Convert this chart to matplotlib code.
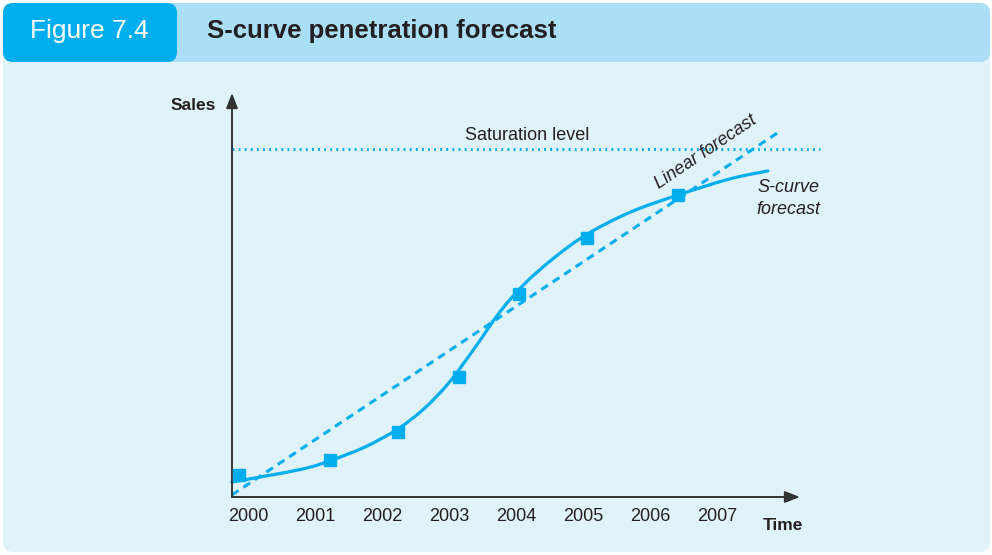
"""S-curve penetration forecast: sales vs time with linear and S-curve forecasts."""

import matplotlib

matplotlib.use("Agg")
import matplotlib.pyplot as plt
import numpy as np
from matplotlib.patches import FancyBboxPatch, PathPatch
from matplotlib.path import Path

plt.rcParams["font.family"] = ["Liberation Sans", "DejaVu Sans"]

# Time axis
years = [2000, 2001, 2002, 2003, 2004, 2005, 2006, 2007]
year_labels = ["2000", "2001", "2002", "2003", "2004", "2005", "2006", "2007"]

# Observed sales points (square markers)
obs_time = [1999.87, 2001.22, 2002.24, 2003.15, 2004.04, 2005.06, 2006.42]
obs_sales = [6.3, 10.6, 18.7, 34.5, 58.3, 74.4, 86.8]

# S-curve forecast through the points
scurve_time = [1999.76, 2000.78, 2001.22, 2001.75, 2002.24, 2002.64, 2003.01,
               2003.39, 2003.76, 2004.13, 2004.58, 2005.06, 2005.70, 2006.42,
               2007.19, 2007.76]
scurve_sales = [4.3, 7.9, 10.4, 14.4, 19.6, 25.6, 33.1,
                43.0, 53.2, 61.3, 68.9, 75.5, 81.8, 86.8,
                91.4, 93.7]

# Straight-line forecast
linear_time = [1999.76, 2007.90]
linear_sales = [0.6, 104.6]

saturation = 100

BLUE = "#00aeef"
BAND = "#aadff7"
BODY = "#e0f3fb"
INK = "#231f20"

W, H = 992, 555
fig = plt.figure(figsize=(W / 100, H / 100), dpi=100, facecolor="white")

# Background panel drawn in pixel coordinates
bg = fig.add_axes([0, 0, 1, 1])
bg.set_xlim(0, W)
bg.set_ylim(H, 0)
bg.axis("off")


def rbox(x0, y0, x1, y1, fc, r=10):
    p = FancyBboxPatch((x0 + r, y0 + r), x1 - x0 - 2 * r, y1 - y0 - 2 * r,
                       boxstyle=f"round,pad={r},rounding_size={r}",
                       fc=fc, ec="none")
    bg.add_patch(p)


rbox(3, 3, 990, 552, BODY)
rbox(150, 3, 990, 62, BAND)
rbox(3, 3, 177, 62, BLUE)
bg.text(30, 31, "Figure 7.4", color="white", fontsize=19,
        ha="left", va="center")
bg.text(207, 31, "S-curve penetration forecast", color=INK, fontsize=18.5,
        fontweight="bold", ha="left", va="center")

# Chart axes: origin at (232, 497) px, arrow tips at x=800 and y=93 px
x0_px, y0_px, x1_px, y1_px = 232, 497, 800, 93
ax = fig.add_axes([x0_px / W, 1 - y0_px / H, (x1_px - x0_px) / W, (y0_px - y1_px) / H])
ax.patch.set_alpha(0)
px_per_year = 67
ax.set_xlim(2000 + (x0_px - 248) / px_per_year, 2000 + (x1_px - 248) / px_per_year)
ax.set_ylim(0, (y0_px - y1_px) / 3.48)
for s in ax.spines.values():
    s.set_visible(False)
ax.set_yticks([])
ax.set_xticks(years)
ax.set_xticklabels(year_labels, fontsize=13, color=INK)
ax.tick_params(axis="x", length=0, pad=8)

# Axis arrows
arrow_kw = dict(arrowstyle="-|>,head_length=0.9,head_width=0.35", color="#333333",
                lw=1.4, shrinkA=0, shrinkB=0)
ax.annotate("", xy=(1, 0), xytext=(0, 0), xycoords="axes fraction",
            arrowprops=arrow_kw, annotation_clip=False)
ax.annotate("", xy=(0, 1), xytext=(0, 0), xycoords="axes fraction",
            arrowprops=arrow_kw, annotation_clip=False)

# Saturation level
ax.axhline(saturation, xmin=0, xmax=(820 - x0_px) / (x1_px - x0_px), color=BLUE,
           lw=2.2, linestyle=(0, (0.6, 1.4)), dash_capstyle="butt", clip_on=False)
ax.text(2004.16, saturation + 4, "Saturation level", fontsize=13, color=INK,
        ha="center", va="center")

# Linear forecast
ax.plot(linear_time, linear_sales, color=BLUE, lw=2.2, linestyle=(0, (2.6, 1.9)),
        clip_on=False)

# S-curve forecast drawn as a smooth Bezier through the points
pts = np.column_stack([scurve_time, scurve_sales])
ext = np.vstack([pts[0], pts, pts[-1]])
verts = [tuple(pts[0])]
codes = [Path.MOVETO]
for i in range(1, len(ext) - 2):
    p0, p1, p2, p3 = ext[i - 1], ext[i], ext[i + 1], ext[i + 2]
    c1 = p1 + (p2 - p0) / 6
    c2 = p2 - (p3 - p1) / 6
    verts += [tuple(c1), tuple(c2), tuple(p2)]
    codes += [Path.CURVE4] * 3
ax.add_patch(PathPatch(Path(verts, codes), fill=False, ec=BLUE, lw=2.3,
                       capstyle="round", clip_on=False))

ax.plot(obs_time, obs_sales, linestyle="none", marker="s", markersize=8.2,
        color=BLUE, clip_on=False, zorder=5)

# Labels
ax.text(2006.84, 99.0, "Linear forecast", fontsize=13, style="italic",
        color=INK, rotation=34, ha="center", va="center", rotation_mode="anchor")
ax.text(2008.06, 85.8, "S-curve\nforecast", fontsize=13, style="italic",
        color=INK, ha="center", va="center", linespacing=1.35)
bg.text(193, 105, "Sales", fontsize=12.5, fontweight="bold", color=INK,
        ha="center", va="center")
bg.text(783, 525, "Time", fontsize=12.5, fontweight="bold", color=INK,
        ha="center", va="center")

fig.savefig("out.png", dpi=100, facecolor="white")
